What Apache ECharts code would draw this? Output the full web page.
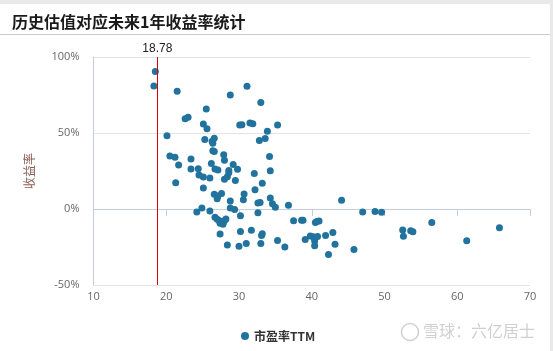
<!DOCTYPE html>
<html>
<head>
<meta charset="utf-8">
<script src="https://cdn.jsdelivr.net/npm/echarts@6/dist/echarts.min.js"></script>
<style>
html,body{margin:0;padding:0;background:#e9e9e9;width:553px;height:351px;overflow:hidden;}
#card{position:absolute;left:0;top:4px;width:550px;height:347px;background:#fff;}
#main{position:absolute;left:0;top:0;width:553px;height:351px;}
</style>
</head>
<body>
<div id="card"></div>
<div id="main"></div>
<script>
const chartTitle = '历史估值对应未来1年收益率统计';
const seriesName = '市盈率TTM';
const yAxisName = '收益率';
const currentPE = 18.78;
const peValues = [
  18.5, 18.3, 21.5, 22.6, 23.0, 25.5, 25.1, 25.6, 20.1, 25.3,
  26.3, 26.6, 26.4, 26.4, 26.6, 27.9, 28.0, 20.5, 21.2, 21.7,
  23.4, 23.4, 24.4, 24.5, 25.1, 25.1, 21.3, 26.2, 26.7, 27.1,
  26.0, 28.0, 28.6, 28.6, 28.4, 28.8, 29.2, 29.5, 29.8, 31.1,
  33.0, 30.1, 30.4, 31.5, 31.9, 35.3, 33.9, 33.6, 32.8, 34.2,
  34.3, 32.1, 33.2, 32.2,
  26.6, 27.1, 27.6, 27.0, 28.8, 28.8, 29.4, 30.7, 30.6, 34.3,
  34.6, 35.0, 32.9, 32.6, 32.6, 36.8, 44.1, 47.0, 48.7, 49.6,
  24.2, 24.9, 26.0,
  26.7, 27.0, 27.3, 27.6, 27.8, 28.0, 28.2, 27.4, 30.2,
  27.4, 28.4, 30.0, 31.0, 33.0, 30.2, 31.7, 33.1, 33.2, 35.3,
  36.3, 37.5, 38.6, 38.8, 40.5, 40.7, 41.0, 39.1, 39.8, 40.2,
  40.8, 40.4, 40.4, 40.4, 41.9, 42.9, 43.2, 42.3, 45.8, 52.5,
  52.6, 53.6, 53.9, 56.5, 61.3, 65.8
];
const returnValues = [
  90.5, 81.0, 77.4, 59.4, 60.3, 65.8, 55.9, 52.8, 48.2, 45.8,
  44.5, 46.5, 43.3, 38.4, 37.8, 35.7, 32.0, 34.9, 34.0, 28.9,
  32.9, 26.3, 26.5, 22.4, 21.0, 13.8, 17.3, 30.0, 26.3, 25.7,
  20.4, 19.5, 23.9, 25.4, 21.2, 75.0, 29.3, 18.8, 26.1, 80.7,
  70.1, 55.3, 55.5, 56.6, 56.1, 55.3, 51.1, 46.4, 45.1, 34.6,
  25.2, 23.4, 16.9, 12.7,
  9.7, 8.5, 10.2, 6.7, 5.3, 0.7, -0.3, 9.9, 6.1, 7.2,
  3.4, 1.2, 4.3, 3.9, -2.5, 2.4, 5.7, -2.0, -1.6, -2.2,
  -2.0, 0.7, -1.3,
  -5.5, -6.8, -7.8, -8.6, -10.0, -7.8, -6.5, -9.3, -4.4,
  -16.4, -23.7, -24.5, -22.7, -22.7, -14.8, -14.0, -17.5, -16.3, -20.8,
  -25.0, -7.7, -7.4, -7.4, -8.9, -8.3, -7.9, -20.0, -17.7, -18.2,
  -18.1, -19.5, -21.0, -24.1, -17.4, -15.5, -23.2, -30.0, -26.6, -13.8,
  -18.0, -14.3, -14.9, -8.8, -20.9, -12.3
];
const xTicks = {min: 10, max: 70, interval: 10};
const yTicks = {min: -50, max: 100, interval: 50};

const points = peValues.map((v, i) => [v, returnValues[i]]);

const chart = echarts.init(document.getElementById('main'), null, {renderer: 'canvas'});
chart.setOption({
  backgroundColor: 'transparent',
  animation: false,
  title: {
    text: chartTitle,
    left: 7, top: 9,
    textStyle: {fontSize: 16, fontWeight: 'bold', color: '#1a1a1a', fontFamily: 'Noto Sans CJK SC'}
  },
  graphic: [
    {type: 'line', shape: {x1: 0, y1: 34.5, x2: 550, y2: 34.5}, style: {stroke: '#cccccc', lineWidth: 1}},
    {type: 'circle', shape: {cx: 410, cy: 332, r: 8.5}, style: {fill: 'none', stroke: '#d2d2d2', lineWidth: 1.6}},
    {type: 'text', left: 423, top: 323, style: {text: '雪球：六亿居士', fill: '#d0d0d0', fontSize: 16, fontFamily: 'Noto Sans CJK SC'}}
  ],
  legend: {
    data: [seriesName],
    left: 236, top: 325,
    icon: 'circle', itemWidth: 8, itemHeight: 8, itemGap: 6,
    textStyle: {fontSize: 12, fontWeight: 'bold', color: '#333', fontFamily: 'Noto Sans CJK SC'}
  },
  grid: {left: 93.5, right: 23, top: 57, bottom: 66, containLabel: false},
  xAxis: {
    type: 'value',
    min: xTicks.min, max: xTicks.max, interval: xTicks.interval,
    axisLine: {show: true, lineStyle: {color: '#c3cde0'}},
    axisTick: {show: true, length: 7, lineStyle: {color: '#c3cde0'}},
    axisLabel: {color: '#666', fontSize: 11, margin: 6, fontFamily: 'Open Sans'},
    splitLine: {show: false}
  },
  yAxis: {
    type: 'value',
    min: yTicks.min, max: yTicks.max, interval: yTicks.interval,
    name: yAxisName, nameLocation: 'middle', nameGap: 58,
    nameTextStyle: {color: '#8a5c52', fontSize: 12, fontFamily: 'Noto Sans CJK SC'},
    axisLine: {show: true, lineStyle: {color: '#c3cde0'}},
    axisTick: {show: false},
    axisLabel: {color: '#666', fontSize: 11, margin: 14, formatter: '{value}%', fontFamily: 'Open Sans'},
    splitLine: {show: true, lineStyle: {color: '#e3e3e3'}}
  },
  series: [{
    name: seriesName,
    type: 'scatter',
    symbolSize: 7,
    itemStyle: {color: '#21739e', opacity: 1},
    data: points,
    markLine: {
      silent: true,
      symbol: 'none',
      animation: false,
      lineStyle: {color: '#dd0000', width: 1, type: 'solid'},
      label: {show: true, position: 'end', formatter: String(currentPE), color: '#222', fontSize: 12, distance: 2},
      data: [{xAxis: currentPE}]
    }
  }]
});
</script>
</body>
</html>
